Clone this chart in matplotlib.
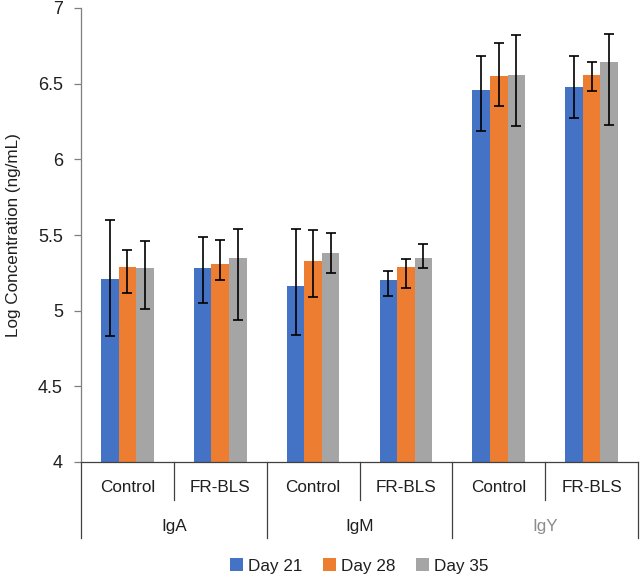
import numpy as np
import matplotlib
matplotlib.use("Agg")
import matplotlib.pyplot as plt


GROUPS = ["IgA", "IgM", "IgY"]
TREATMENTS = ["Control", "FR-BLS"]
SERIES = ["Day 21", "Day 28", "Day 35"]

# one value per (group, treatment) pair
DAY21 = [5.21, 5.28, 5.16, 5.20, 6.46, 6.48]
DAY28 = [5.29, 5.31, 5.33, 5.29, 6.55, 6.56]
DAY35 = [5.28, 5.35, 5.38, 5.35, 6.56, 6.64]

# error bars are not symmetric in the source, so keep both sides
DAY21_ERR_LOW = [0.38, 0.23, 0.32, 0.10, 0.27, 0.21]
DAY21_ERR_HIGH = [0.39, 0.21, 0.38, 0.06, 0.22, 0.20]
DAY28_ERR_LOW = [0.17, 0.11, 0.24, 0.14, 0.20, 0.11]
DAY28_ERR_HIGH = [0.11, 0.16, 0.20, 0.05, 0.22, 0.08]
DAY35_ERR_LOW = [0.27, 0.41, 0.13, 0.07, 0.34, 0.41]
DAY35_ERR_HIGH = [0.18, 0.19, 0.13, 0.09, 0.26, 0.19]

COLORS = ["#4472C4", "#ED7D31", "#A5A5A5"]
TEXT_COLOR = "#1f1f1f"


def draw_bars(ax):
    """
    Clustered bars with error bars, three days per category.
    """

    values = [DAY21, DAY28, DAY35]
    errors = [
        [DAY21_ERR_LOW, DAY21_ERR_HIGH],
        [DAY28_ERR_LOW, DAY28_ERR_HIGH],
        [DAY35_ERR_LOW, DAY35_ERR_HIGH],
    ]

    x = np.arange(len(DAY21))
    width = 0.189

    for i, (vals, errs) in enumerate(zip(values, errors)):
        pos = x + (i - 1) * width
        ax.bar(pos, vals, width=width, color=COLORS[i], label=SERIES[i],
               zorder=2)
        ax.errorbar(pos, vals, yerr=errs, fmt="none", ecolor="black",
                    elinewidth=1.2, capsize=3.5, capthick=1.2, zorder=3)


def draw_category_axis(ax):
    """
    Two-level category axis like Excel: treatment on top, antibody below.
    """

    trans = ax.get_xaxis_transform()
    line_kw = dict(color="#404040", linewidth=0.9, clip_on=False,
                   transform=trans)

    # short separators between treatments inside a group
    for xs in [0.5, 2.5, 4.5]:
        ax.plot([xs, xs], [0, -0.084], **line_kw)

    # long separators between groups
    for xs in [-0.5, 1.5, 3.5, 5.5]:
        ax.plot([xs, xs], [0, -0.168], **line_kw)

    for i in range(len(GROUPS) * len(TREATMENTS)):
        ax.text(i, -0.056, TREATMENTS[i % 2], transform=trans,
                ha="center", va="center", fontsize=12.3, color=TEXT_COLOR)

    for g, name in enumerate(GROUPS):
        color = "#8c8c8c" if name == "IgY" else TEXT_COLOR
        ax.text(2 * g + 0.5, -0.143, name, transform=trans,
                ha="center", va="center", fontsize=12.3, color=color)


if __name__ == "__main__":

    plt.rcParams["font.family"] = ["Liberation Sans", "DejaVu Sans"]

    fig = plt.figure(figsize=(6.4, 5.78), dpi=100)
    ax = fig.add_axes([81 / 640, 116 / 578, 557 / 640, 454 / 578])

    draw_bars(ax)
    draw_category_axis(ax)

    ax.set_xlim(-0.5, 5.5)
    ax.set_ylim(4, 7)
    ax.set_yticks([4, 4.5, 5, 5.5, 6, 6.5, 7])
    ax.set_yticklabels(["4", "4.5", "5", "5.5", "6", "6.5", "7"])
    ax.set_xticks([])

    ax.tick_params(axis="y", direction="out", length=5, width=0.9,
                   color="#7f7f7f", labelsize=13, labelcolor=TEXT_COLOR,
                   pad=8)

    ax.spines["top"].set_visible(False)
    ax.spines["right"].set_visible(False)
    ax.spines["left"].set_color("#7f7f7f")
    ax.spines["left"].set_linewidth(0.9)
    ax.spines["bottom"].set_color("#404040")
    ax.spines["bottom"].set_linewidth(0.9)

    ax.set_ylabel("Log Concentration (ng/mL)", fontsize=12.3,
                  color=TEXT_COLOR)
    ax.yaxis.set_label_coords(-0.108, 0.5)

    ax.legend(loc="center", bbox_to_anchor=(359.5 / 640, 12 / 578),
              bbox_transform=fig.transFigure, ncol=3, frameon=False,
              fontsize=12.3, handlelength=0.75, handleheight=0.75,
              handletextpad=0.3, columnspacing=1.2, labelcolor=TEXT_COLOR)

    fig.savefig("out.png", dpi=100)
    plt.close(fig)
